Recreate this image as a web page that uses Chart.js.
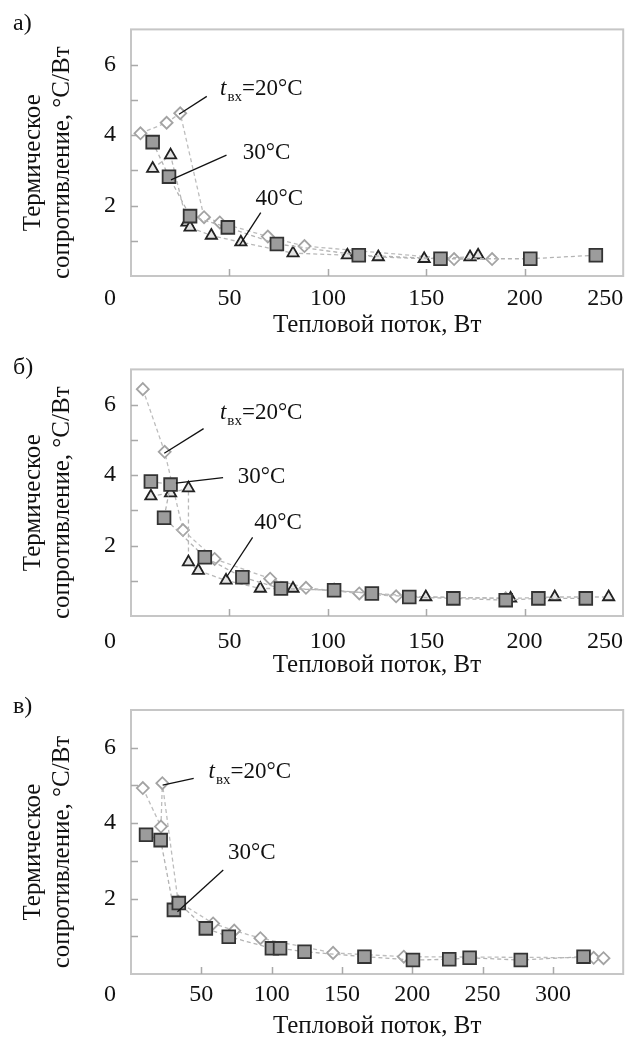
<!DOCTYPE html>
<html>
<head>
<meta charset="utf-8">
<script src="https://cdn.jsdelivr.net/npm/chart.js@4.4.1/dist/chart.umd.min.js"></script>
<style>
    html, body { margin: 0; padding: 0; background: #fff; }
    #wrap { position: relative; width: 634px; height: 1041px; }
    #wrap canvas { position: absolute; left: 0; }
</style>
</head>
<body>
<div id="wrap">
    <canvas id="chartA" width="634" height="340" style="top:0"></canvas>
    <canvas id="chartB" width="634" height="340" style="top:340px"></canvas>
    <canvas id="chartC" width="634" height="361" style="top:680px"></canvas>
</div>
<script>
// --- data: heat flow, W / thermal resistance, °C/W ---
// panel а
var flowA20 = [4.8, 18.1, 25, 37.1, 45.1, 69.5, 88.1, 164.1, 183.4];
var resA20 = [4.05, 4.35, 4.62, 1.67, 1.52, 1.12, 0.85, 0.48, 0.48];
var flowA30 = [11, 19.3, 30, 49.2, 74.1, 115.7, 157.2, 202.8, 236.1];
var resA30 = [3.80, 2.82, 1.70, 1.38, 0.91, 0.59, 0.49, 0.49, 0.59];
var flowA40 = [11, 20.1, 28.4, 30, 40.8, 55.8, 82.3, 109.9, 125.6, 148.9, 172.2, 176.3];
var resA40 = [3.05, 3.43, 1.52, 1.38, 1.15, 0.96, 0.65, 0.59, 0.54, 0.49, 0.54, 0.59];
// panel б
var flowB20 = [6, 17.1, 26.4, 42.5, 70.7, 88.9, 116, 134.7, 190.4];
var resB20 = [6.44, 4.66, 2.44, 1.62, 1.06, 0.80, 0.64, 0.56, 0.50];
var flowB30 = [10.1, 20.1, 16.8, 37.5, 56.6, 76.2, 103.2, 122.4, 141.4, 163.8, 190.4, 207, 231.1];
var resB30 = [3.82, 3.73, 2.79, 1.67, 1.10, 0.78, 0.73, 0.64, 0.54, 0.50, 0.45, 0.50, 0.50];
var flowB40 = [10.1, 20.1, 29.2, 29.2, 34.2, 48.3, 65.7, 82.3, 103.2, 149.8, 192.9, 215.3, 242.7];
var resB40 = [3.40, 3.49, 3.63, 1.53, 1.29, 1.01, 0.78, 0.78, 0.72, 0.54, 0.50, 0.54, 0.54];
// panel в
var flowC20 = [8.4, 21.3, 22.3, 33.5, 58.4, 73.4, 92, 143.7, 194, 329, 336];
var resC20 = [4.93, 3.91, 5.06, 1.92, 1.34, 1.15, 0.95, 0.56, 0.46, 0.43, 0.42];
var flowC30 = [10.7, 21.1, 30.5, 34, 53.2, 69.5, 100.2, 106, 123.4, 166, 200.5, 226.3, 240.8, 277.2, 321.8];
var resC30 = [3.69, 3.55, 1.70, 1.88, 1.21, 0.99, 0.68, 0.68, 0.59, 0.46, 0.37, 0.39, 0.43, 0.37, 0.46];

var yTickLabels = [2, 4, 6];
var xTickLabelsAB = [50, 100, 150, 200, 250];
var xTickLabelsC = [50, 100, 150, 200, 250, 300];
var originLabel = '0';
var xTitle = 'Тепловой поток, Вт';
var yTitle = ['Термическое', 'сопротивление, °С/Вт'];

var SERIF = '"Liberation Serif", "Times New Roman", serif';
var INK = '#111';

function toPoints(xs, ys) {
    return xs.map(function (x, i) {
        return {x: x, y: ys[i]};
    });
}

function series(kind, xs, ys) {
    var base = {
        data: toPoints(xs, ys),
        showLine: true,
        borderWidth: 1.3,
        borderDash: [4, 3],
        pointBorderWidth: 1.8
    };
    if (kind === 20) {
        return Object.assign(base, {
            label: '20°C', order: 2, borderColor: '#bdbdbd',
            pointStyle: 'rectRot', pointRadius: 6,
            pointBackgroundColor: '#fff', pointBorderColor: '#a3a3a3'
        });
    }
    if (kind === 30) {
        return Object.assign(base, {
            label: '30°C', order: 0, borderColor: '#b3b3b3',
            pointStyle: 'rect', pointRadius: 9,
            pointBackgroundColor: '#9c9c9c', pointBorderColor: '#333'
        });
    }
    return Object.assign(base, {
        label: '40°C', order: 1, borderColor: '#b8b8b8',
        pointStyle: 'triangle', pointRadius: 6.5,
        pointBackgroundColor: '#e4e4e4', pointBorderColor: '#222'
    });
}

// frame round the plot area and short inward tick marks
var framePlugin = {
    id: 'frame',
    beforeDatasetsDraw: function (chart) {
        var ctx = chart.ctx,
            a = chart.chartArea,
            xs = chart.scales.x,
            ys = chart.scales.y;

        ctx.save();
        ctx.strokeStyle = '#c6c6c6';
        ctx.lineWidth = 2;
        ctx.strokeRect(a.left, a.top, a.right - a.left, a.bottom - a.top);

        ctx.strokeStyle = '#a9a9a9';
        ctx.lineWidth = 1.5;
        ctx.beginPath();
        ys.ticks.forEach(function (t) {
            if (t.value <= ys.min || t.value >= ys.max) {
                return;
            }
            var y = Math.round(ys.getPixelForValue(t.value)) + 0.5;
            ctx.moveTo(a.left, y);
            ctx.lineTo(a.left + 7, y);
        });
        xs.ticks.forEach(function (t) {
            if (t.value <= xs.min || t.value >= xs.max) {
                return;
            }
            var x = Math.round(xs.getPixelForValue(t.value)) + 0.5;
            ctx.moveTo(x, a.bottom);
            ctx.lineTo(x, a.bottom - 7);
        });
        ctx.stroke();
        ctx.restore();
    }
};

function drawParts(ctx, parts, x, y) {
    parts.forEach(function (p) {
        var size = p.sub ? 15 : 23;
        ctx.font = (p.italic ? 'italic ' : '') + size + 'px ' + SERIF;
        ctx.fillText(p.t, x, y + (p.sub ? 6 : 0));
        x += ctx.measureText(p.t).width + (p.italic ? 1 : 0);
    });
}

// panel letter, origin "0", two-line y title and the callouts
function textPlugin(cfg) {
    return {
        id: 'panelText',
        afterDraw: function (chart) {
            var ctx = chart.ctx,
                a = chart.chartArea,
                xs = chart.scales.x,
                ys = chart.scales.y,
                cy = (a.top + a.bottom) / 2 + 10;

            ctx.save();
            ctx.fillStyle = INK;
            ctx.textBaseline = 'middle';
            ctx.textAlign = 'left';
            ctx.font = '24px ' + SERIF;
            ctx.fillText(cfg.letter, 13, a.top + cfg.letterDy);

            ctx.textAlign = 'right';
            ctx.fillText(originLabel, a.left - 15, a.bottom + cfg.xPad + 14.4);

            ctx.font = '25px ' + SERIF;
            ctx.textAlign = 'center';
            ctx.textBaseline = 'alphabetic';
            [39.5, 68.5].forEach(function (bx, i) {
                ctx.save();
                ctx.translate(bx, cy);
                ctx.rotate(-Math.PI / 2);
                ctx.fillText(yTitle[i], 0, 0);
                ctx.restore();
            });

            ctx.textAlign = 'left';
            ctx.strokeStyle = '#111';
            ctx.lineWidth = 1.3;
            cfg.callouts.forEach(function (c) {
                ctx.beginPath();
                ctx.moveTo(xs.getPixelForValue(c.from[0]), ys.getPixelForValue(c.from[1]));
                ctx.lineTo(xs.getPixelForValue(c.to[0]), ys.getPixelForValue(c.to[1]));
                ctx.stroke();
                drawParts(ctx, c.parts, xs.getPixelForValue(c.at[0]), ys.getPixelForValue(c.at[1]));
            });
            ctx.restore();
        }
    };
}

var inletParts = [{t: 't', italic: true}, {t: 'вх', sub: true}, {t: '=20°C'}];

function makePanel(id, cfg) {
    return new Chart(document.getElementById(id), {
        type: 'scatter',
        data: {datasets: cfg.datasets},
        options: {
            responsive: false,
            animation: false,
            events: [],
            layout: {padding: {top: cfg.top, right: 1, bottom: 0, left: 0}},
            plugins: {
                legend: {display: false},
                tooltip: {enabled: false}
            },
            scales: {
                x: {
                    type: 'linear',
                    min: 0,
                    max: cfg.xMax,
                    grid: {display: false, drawTicks: false},
                    border: {display: false},
                    ticks: {
                        stepSize: 50,
                        autoSkip: false,
                        maxRotation: 0,
                        align: 'inner',
                        padding: cfg.xPad,
                        color: INK,
                        font: {family: SERIF, size: 24},
                        callback: function (v) {
                            return cfg.xLabels.indexOf(v) >= 0 ? String(v) : '';
                        }
                    },
                    title: {
                        display: true,
                        text: xTitle,
                        color: INK,
                        padding: 0,
                        font: {family: SERIF, size: 25}
                    },
                    afterFit: function (s) {
                        s.height = cfg.xAxisH;
                    }
                },
                y: {
                    min: 0,
                    max: 7,
                    grid: {display: false, drawTicks: false},
                    border: {display: false},
                    ticks: {
                        stepSize: 1,
                        padding: 15,
                        color: INK,
                        font: {family: SERIF, size: 24},
                        callback: function (v) {
                            return yTickLabels.indexOf(v) >= 0 ? String(v) : '';
                        }
                    },
                    afterFit: function (s) {
                        s.width = 131;
                    }
                }
            }
        },
        plugins: [framePlugin, textPlugin(cfg)]
    });
}

makePanel('chartA', {
    top: 23, xAxisH: 64, xPad: 8, xMax: 250, xLabels: xTickLabelsAB,
    letter: 'а)', letterDy: -6,
    datasets: [series(20, flowA20, resA20), series(30, flowA30, resA30), series(40, flowA40, resA40)],
    callouts: [
        {from: [24.4, 4.59], to: [38.5, 5.10], at: [45.2, 5.14], parts: inletParts},
        {from: [20.3, 2.73], to: [48.5, 3.43], at: [56.8, 3.32], parts: [{t: '30°C'}]},
        {from: [65.9, 1.80], to: [55.1, 0.87], at: [63.2, 2.01], parts: [{t: '40°C'}]}
    ]
});

makePanel('chartB', {
    top: 27, xAxisH: 64, xPad: 11, xMax: 250, xLabels: xTickLabelsAB,
    letter: 'б)', letterDy: -2,
    datasets: [series(20, flowB20, resB20), series(30, flowB30, resB30), series(40, flowB40, resB40)],
    callouts: [
        {from: [16.9, 4.62], to: [36.9, 5.32], at: [45.2, 5.60], parts: inletParts},
        {from: [22.8, 3.77], to: [46.8, 3.93], at: [54.3, 3.77], parts: [{t: '30°C'}]},
        {from: [61.8, 2.23], to: [48.5, 1.10], at: [62.6, 2.46], parts: [{t: '40°C'}]}
    ]
});

makePanel('chartC', {
    top: 30, xAxisH: 67, xPad: 6, xMax: 350, xLabels: xTickLabelsC,
    letter: 'в)', letterDy: -3,
    datasets: [series(20, flowC20, resC20), series(30, flowC30, resC30)],
    callouts: [
        {from: [22.5, 5.01], to: [44.6, 5.19], at: [55.1, 5.19], parts: inletParts},
        {from: [33.0, 1.65], to: [65.6, 2.76], at: [69.0, 3.04], parts: [{t: '30°C'}]}
    ]
});
</script>
</body>
</html>
